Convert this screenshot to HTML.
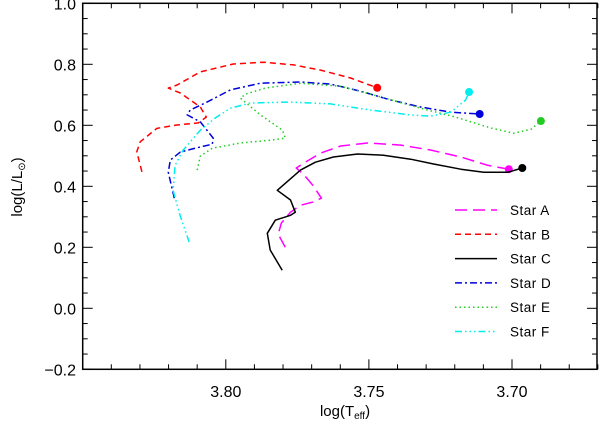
<!DOCTYPE html>
<html><head><meta charset="utf-8"><style>
body{margin:0;background:#fff;}
svg{display:block;font-family:"Liberation Sans",sans-serif;}
</style></head><body>
<svg id="chart" width="600" height="424" xmlns="http://www.w3.org/2000/svg"></svg>
<script>
const xTicks=[3.80,3.75,3.70];
const xTickLabels=["3.80","3.75","3.70"];
const yTicks=[1.0,0.8,0.6,0.4,0.2,0.0,-0.2];
const yTickLabels=["1.0","0.8","0.6","0.4","0.2","0.0","\u22120.2"];
const seriesNames=["Star A","Star B","Star C","Star D","Star E","Star F"];
const starA_T=[3.7792,3.7817,3.7806,3.7774,3.7739,3.7697,3.7666,3.7694,3.7729,3.7754,3.7722,3.7669,3.7599,3.7505,3.7389,3.7285,3.7179,3.7085,3.7011];
const starA_L=[0.200,0.243,0.279,0.315,0.338,0.348,0.361,0.401,0.440,0.460,0.479,0.509,0.532,0.542,0.535,0.519,0.496,0.469,0.456];
const starB_T=[3.8293,3.8311,3.8299,3.8241,3.8171,3.8096,3.8068,3.8089,3.8159,3.8201,3.8170,3.8089,3.7974,3.7869,3.7763,3.7669,3.7564,3.7471];
const starB_L=[0.4475,0.513,0.546,0.590,0.601,0.608,0.627,0.660,0.706,0.722,0.732,0.775,0.801,0.807,0.798,0.781,0.755,0.723];
const starC_T=[3.7803,3.7845,3.7855,3.7827,3.7774,3.7757,3.7774,3.782,3.7792,3.7739,3.7687,3.7624,3.754,3.7449,3.7354,3.7274,3.7179,3.7099,3.7015,3.6964];
const starC_L=[0.125,0.191,0.246,0.289,0.305,0.315,0.355,0.387,0.410,0.453,0.479,0.496,0.506,0.502,0.489,0.473,0.456,0.446,0.446,0.460];
const starD_T=[3.818,3.8201,3.8194,3.8159,3.8107,3.8047,3.8044,3.8089,3.8135,3.8124,3.8072,3.7984,3.7879,3.7739,3.7634,3.7530,3.7424,3.7319,3.7214,3.7113];
const starD_L=[0.361,0.446,0.486,0.512,0.525,0.538,0.558,0.611,0.634,0.650,0.673,0.716,0.738,0.742,0.735,0.712,0.683,0.660,0.643,0.637];
const starE_T=[3.81,3.8089,3.8047,3.7949,3.7844,3.7792,3.7802,3.7879,3.7949,3.7932,3.7862,3.7739,3.7599,3.7459,3.7319,3.7197,3.7074,3.6994,3.6934,3.6899];
const starE_L=[0.453,0.499,0.525,0.542,0.551,0.558,0.584,0.634,0.689,0.702,0.722,0.738,0.728,0.693,0.656,0.627,0.591,0.574,0.587,0.614];
const starF_T=[3.8128,3.816,3.8184,3.8177,3.8149,3.8089,3.8037,3.7984,3.7914,3.7775,3.7634,3.7495,3.7355,3.7285,3.7214,3.7162,3.715];
const starF_L=[0.217,0.305,0.387,0.469,0.519,0.584,0.624,0.656,0.673,0.676,0.670,0.650,0.634,0.630,0.643,0.683,0.709];

const NS="http://www.w3.org/2000/svg";
const svg=document.getElementById('chart');
const X0=82.7,X1=597,Y0=3.3,Y1=369.3;
const TMAX=3.85,TMIN=3.6703,LMAX=1.0,LMIN=-0.2;
function xs(t){return X0+(TMAX-t)/(TMAX-TMIN)*(X1-X0);}
function ys(l){return Y0+(LMAX-l)/(LMAX-LMIN)*(Y1-Y0);}
function mk(tag,attrs){const e=document.createElementNS(NS,tag);for(const k in attrs)e.setAttribute(k,attrs[k]);svg.appendChild(e);return e;}

let fr=mk('rect',{x:X0,y:Y0,width:X1-X0,height:Y1-Y0,fill:'none',stroke:'#000','stroke-width':1.5});



for(let i=0;i<=18;i++){
  const t=3.85-i*0.01; const x=xs(t);
  const major=(i%5)===0;
  const len=major?10:5;
  const a=mk('line',{x1:x,y1:Y1,x2:x,y2:Y1-len,stroke:'#000','stroke-width':1});
  
  
  const b=mk('line',{x1:x,y1:Y0,x2:x,y2:Y0+len,stroke:'#000','stroke-width':1});
  
  
}
xTicks.forEach((t,i)=>{
  const tx=mk('text',{x:xs(t),y:397,'text-anchor':'middle','font-size':16});
  tx.textContent=xTickLabels[i];
  
  
});
for(let i=0;i<=24;i++){
  const l=1.0-i*0.05; const y=ys(l);
  const major=i%4===0;
  const len=major?10:5;
  const a=mk('line',{x1:X0,y1:y,x2:X0+len,y2:y,stroke:'#000','stroke-width':1});
  
  
  const b=mk('line',{x1:X1,y1:y,x2:X1-len,y2:y,stroke:'#000','stroke-width':1});
  
  
}
yTicks.forEach((l,i)=>{
  const tx=mk('text',{x:76,y:ys(l)+6,'text-anchor':'end','font-size':16});
  tx.textContent=yTickLabels[i];
  
  
});
const xt=mk('text',{x:345,y:416,'text-anchor':'middle','font-size':15});
xt.innerHTML='log(T<tspan font-size="10" dy="3">eff</tspan><tspan dy="-3">)</tspan>';


const yt=mk('text',{x:0,y:0,'text-anchor':'middle','font-size':15,transform:'translate(22,187) rotate(-90)'});
yt.innerHTML='log(L/L<tspan font-size="10" dy="3">\u2299</tspan><tspan dy="-3">)</tspan>';



const styles=[
 {c:'#ff00ff',d:'12,6'},
 {c:'#ff0000',d:'6,4'},
 {c:'#000000',d:''},
 {c:'#0000dd',d:'7,3,2,3'},
 {c:'#22cc22',d:'1.5,3'},
 {c:'#00eeee',d:'7,3,1.5,3,1.5,3,1.5,3'}
];
const Ts=[starA_T,starB_T,starC_T,starD_T,starE_T,starF_T];
const Ls=[starA_L,starB_L,starC_L,starD_L,starE_L,starF_L];
const keys=['a','b','c','d','e','f'];
Ts.forEach((T,s)=>{
  const L=Ls[s];
  const pts=T.map((t,i)=>xs(t).toFixed(1)+','+ys(L[i]).toFixed(1)).join(' ');
  const p=mk('polyline',{points:pts,fill:'none',stroke:styles[s].c,'stroke-width':1.5,'stroke-dasharray':styles[s].d,'stroke-linejoin':'round'});
  
  
  const n=T.length-1;
  const dot=mk('circle',{cx:xs(T[n]),cy:ys(L[n]),r:4,fill:styles[s].c});
  
  
});
seriesNames.forEach((nm,s)=>{
  const y=210+s*24.3;
  const ln=mk('line',{x1:455,y1:y,x2:497,y2:y,stroke:styles[s].c,'stroke-width':1.5,'stroke-dasharray':styles[s].d});
  
  
  const tx=mk('text',{x:510,y:y+5,'font-size':13.5,'letter-spacing':'0.5'});
  tx.textContent=nm;
  
  
});
</script>
</body></html>
